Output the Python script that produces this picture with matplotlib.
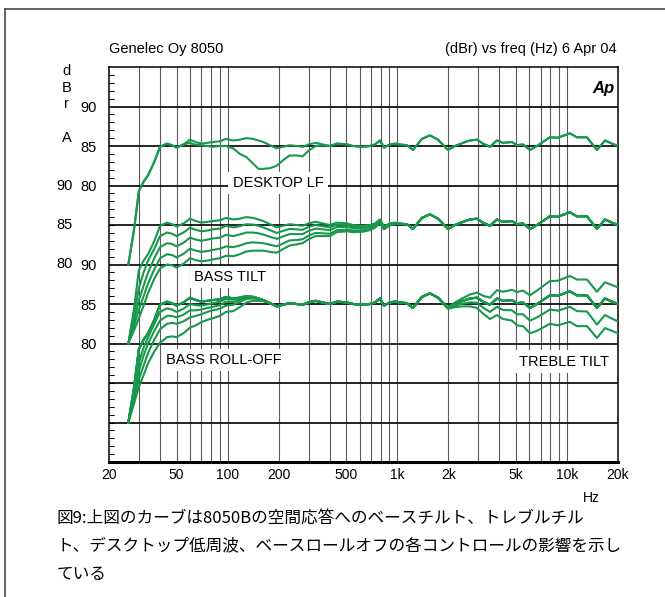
import numpy as np
import matplotlib
matplotlib.use("Agg")
import matplotlib.pyplot as plt
from matplotlib.transforms import blended_transform_factory

# ---------------- data ----------------
freq_hz = [26, 28, 30, 32, 34, 37, 40, 44, 47, 50, 55, 60, 65, 70, 76, 82, 90, 98,
           108, 118, 129, 141, 152, 162, 178, 195, 212, 232, 255, 277, 300, 330,
           363, 401, 441, 505, 548, 628, 690, 739, 791, 835, 905, 968, 1037, 1141,
           1237, 1398, 1558, 1738, 1990, 2189, 2440, 2682, 2950, 3199, 3518, 3866,
           4197, 4743, 5074, 5508, 6055, 6655, 7217, 7934, 8848, 10411, 11448,
           13122, 15032, 16756, 18423, 20000]

# flat (all controls off) response, dB
base_db = [70.0, 74.2, 79.3, 80.5, 81.3, 83.0, 84.9, 85.3, 85.1, 84.8, 85.2, 85.8,
           85.5, 85.3, 85.4, 85.5, 85.6, 85.9, 85.7, 85.8, 86.0, 85.9, 85.7, 85.5,
           85.1, 84.7, 84.9, 85.1, 85.0, 84.9, 85.2, 85.4, 85.2, 85.0, 85.3, 85.2,
           85.0, 84.9, 85.0, 85.2, 85.7, 84.8, 85.2, 85.3, 85.2, 85.1, 84.5, 85.9,
           86.35, 85.8, 84.5, 85.0, 85.4, 85.7, 85.8, 85.3, 84.9, 85.7, 85.4, 85.5,
           85.1, 85.2, 84.5, 85.0, 85.5, 86.1, 86.05, 86.6, 86.1, 86.1, 84.5, 85.7,
           85.3, 85.0]

# desktop LF: deviation from flat, starting at 60 Hz (index 11)
desktop_dev = [-0.4, -0.35, -0.2, -0.4, -0.6, -0.6, -0.9, -1.0, -1.8, -2.4, -3.1,
               -3.6, -3.4, -2.9, -2.2, -1.7, -1.3, -1.2, -1.2, -0.8, -0.4, -0.1]
desktop_start = 11

# bass tilt: deviations from flat, starting at 26 Hz (index 0)
bass_tilt_devs = [
    [0, -0.7, -2.3, -1.5, -0.8, -1.0, -1.3,
     -1.25, -1.2, -1.2, -1.15, -1.15, -1.1, -1.1, -1.1, -1.05, -1.05, -1.0, -1.0,
     -0.95, -0.9, -0.85, -0.8, -0.8, -0.75, -0.7, -0.65, -0.6, -0.55, -0.5, -0.45,
     -0.4, -0.35, -0.3, -0.25, -0.2, -0.2, -0.15, -0.12, -0.1, -0.08, -0.06, -0.05,
     -0.03, -0.02],
    [0, -1.4, -3.8, -3.2, -2.3, -2.2, -2.7,
     -2.6, -2.5, -2.5, -2.45, -2.4, -2.35, -2.3, -2.25, -2.2, -2.2, -2.15, -2.1,
     -2.0, -1.95, -1.85, -1.75, -1.7, -1.6, -1.45, -1.35, -1.25, -1.15, -1.05,
     -0.95, -0.85, -0.75, -0.65, -0.55, -0.45, -0.4, -0.32, -0.27, -0.23, -0.19,
     -0.15, -0.11, -0.07, -0.04],
    [0, -2.0, -5.0, -4.5, -3.7, -3.6, -4.1,
     -4.0, -3.9, -3.9, -3.85, -3.8, -3.75, -3.7, -3.7, -3.65, -3.6, -3.6, -3.5,
     -3.4, -3.3, -3.1, -2.95, -2.8, -2.6, -2.4, -2.25, -2.05, -1.9, -1.7, -1.55,
     -1.4, -1.25, -1.1, -0.95, -0.8, -0.7, -0.58, -0.5, -0.42, -0.35, -0.28, -0.2,
     -0.13, -0.07],
    [0, -2.6, -6.1, -5.7, -4.9, -4.8, -5.4,
     -5.3, -5.2, -5.2, -5.1, -5.0, -4.95, -4.9, -4.9, -4.85, -4.8, -4.8, -4.65,
     -4.5, -4.35, -4.15, -3.95, -3.75, -3.5, -3.2, -2.95, -2.7, -2.45, -2.2, -2.0,
     -1.8, -1.6, -1.4, -1.2, -1.0, -0.9, -0.75, -0.65, -0.55, -0.45, -0.35, -0.25,
     -0.16, -0.08],
]

# bass roll-off: deviations from flat, starting at 26 Hz (index 0)
bass_rolloff_devs = [
    [0, -0.4, -1.7, -1.0, -0.5, -0.5, -0.9,
     -0.85, -0.8, -0.8, -0.8, -0.8, -0.65, -0.5, -0.45, -0.4, -0.3, -0.25, -0.15,
     -0.1, -0.05, 0, 0, 0],
    [0, -0.9, -2.8, -2.0, -1.3, -1.4, -2.0,
     -1.8, -1.6, -1.5, -1.55, -1.6, -1.3, -1.0, -0.9, -0.85, -0.75, -0.6, -0.45,
     -0.3, -0.2, -0.1, 0, 0],
    [0, -1.4, -3.8, -3.3, -2.5, -2.5, -3.1,
     -2.8, -2.5, -2.3, -2.4, -2.5, -2.0, -1.6, -1.4, -1.3, -1.2, -1.1, -0.8,
     -0.55, -0.35, -0.2, -0.1, 0],
    [0, -1.9, -4.8, -4.5, -3.8, -4.0, -4.8,
     -4.5, -4.2, -4.0, -3.9, -3.8, -3.2, -2.6, -2.4, -2.3, -2.1, -1.9, -1.6,
     -1.2, -0.8, -0.5, -0.3, -0.15],
]

# treble tilt: deviations from flat, starting at ~2 kHz (index 50)
treble_devs = [
    [0.05, 0.2, 0.35, 0.5, 0.65, 0.75, 0.9, 1.05, 1.15, 1.3, 1.4, 1.5, 1.6, 1.7,
     1.75, 1.8, 1.9, 1.95, 2.0, 2.0, 2.05, 2.05, 2.1, 2.1],
    [-0.05, -0.2, -0.35, -0.5, -0.65, -0.75, -0.9, -1.05, -1.15, -1.3, -1.4, -1.5,
     -1.6, -1.7, -1.75, -1.8, -1.9, -1.95, -2.0, -2.05, -2.1, -2.1, -2.15, -2.2],
    [-0.1, -0.4, -0.7, -1.0, -1.3, -1.5, -1.8, -2.1, -2.3, -2.6, -2.8, -3.0, -3.2,
     -3.4, -3.5, -3.6, -3.75, -3.85, -3.9, -3.9, -3.8, -3.75, -3.7, -3.7],
]
treble_start = 50

# vertical offsets of the three stacked groups (85 dB line positions)
group_offsets = [-45, -55, -65]

x_tick_values = [20, 50, 100, 200, 500, 1000, 2000, 5000, 10000, 20000]
x_tick_labels = ["20", "50", "100", "200", "500", "1k", "2k", "5k", "10k", "20k"]
right_tick_pos = [45, 40, 35, 25, 20, 15]
right_tick_labels = ["90", "85", "80", "90", "85", "80"]
left_tick_pos = [35, 30, 25]
left_tick_labels = ["90", "85", "80"]

control_labels = ["DESKTOP LF", "BASS TILT", "BASS ROLL-OFF", "TREBLE TILT"]
control_label_freq = [198, 103, 95, 9600]
control_label_level = [35.3, 23.4, 12.9, 12.7]

caption_lines = ["図9:上図のカーブは8050Bの空間応答へのベースチルト、トレブルチル",
                 "ト、デスクトップ低周波、ベースロールオフの各コントロールの影響を示し",
                 "ている"]

# ---------------- drawing ----------------
LAT = ["Liberation Sans", "DejaVu Sans"]
CJK = ["Noto Sans CJK JP", "DejaVu Sans"]
plt.rcParams["font.family"] = LAT

W, H = 665, 597
fig = plt.figure(figsize=(W / 100, H / 100), dpi=100)
fig.patch.set_facecolor("white")

# outer frame (top and left edges)
fig.add_artist(plt.Line2D([5 / W, 5 / W], [0, 1 - 9 / H], color="#555555", lw=1.3))
fig.add_artist(plt.Line2D([5 / W, 1], [1 - 9 / H, 1 - 9 / H], color="#555555", lw=1.3))

ax = fig.add_axes([109 / W, (H - 462) / H, 509 / W, 395 / H])
ax.set_xscale("log")
ax.set_xlim(20, 20000)
ax.set_ylim(0, 50)

GREEN = "#17984c"
f = np.array(freq_hz, dtype=float)
base = np.array(base_db, dtype=float)
n = len(f)


def padded(dev, start):
    arr = np.zeros(n)
    arr[start:start + len(dev)] = dev
    return arr


LW = 1.5
# group 1: desktop LF
o1 = group_offsets[0]
ax.plot(f, base + o1, color=GREEN, lw=LW, zorder=4)
ax.plot(f, base + padded(desktop_dev, desktop_start) + o1, color=GREEN, lw=LW, zorder=4)

# group 2: bass tilt
o2 = group_offsets[1]
ax.plot(f, base + o2, color=GREEN, lw=LW, zorder=4)
for d in bass_tilt_devs:
    ax.plot(f, base + padded(d, 0) + o2, color=GREEN, lw=LW, zorder=4)

# group 3: bass roll-off and treble tilt
o3 = group_offsets[2]
ax.plot(f, base + o3, color=GREEN, lw=LW, zorder=4)
for d in bass_rolloff_devs:
    ax.plot(f, base + padded(d, 0) + o3, color=GREEN, lw=LW, zorder=4)
for d in treble_devs:
    ax.plot(f, base + padded(d, treble_start) + o3, color=GREEN, lw=LW, zorder=4)

# grid
vgrid = [30, 40, 50, 60, 70, 80, 90, 100, 200, 300, 400, 500, 600, 700, 800, 900,
         1000, 2000, 3000, 4000, 5000, 6000, 7000, 8000, 9000, 10000]
for v in vgrid:
    ax.axvline(v, color="#5a5a5a", lw=0.8, zorder=1)
for yv in range(5, 50, 5):
    ax.axhline(yv, color="black", lw=1.2, zorder=1)

# spines
for s in ["top", "right", "left"]:
    ax.spines[s].set_linewidth(1.1)
ax.spines["bottom"].set_linewidth(2.2)

# ticks
ax.set_xticks(x_tick_values)
ax.set_xticklabels(x_tick_labels)
ax.xaxis.set_minor_locator(matplotlib.ticker.NullLocator())
ax.tick_params(axis="x", which="major", length=0, pad=4, labelsize=10)
ax.set_yticks(right_tick_pos)
ax.set_yticklabels(right_tick_labels)
ax.set_yticks(list(range(1, 50)), minor=True)
ax.tick_params(axis="y", which="major", length=0, pad=9, labelsize=10.5)
ax.tick_params(axis="y", which="minor", length=3.5, width=0.8, direction="in")

trans = blended_transform_factory(ax.transAxes, ax.transData)
for p, lab in zip(left_tick_pos, left_tick_labels):
    ax.text(-36 / 509, p, lab, transform=trans, ha="right", va="center",
            fontsize=10.5)

# control labels
box = dict(facecolor="white", edgecolor="none", pad=3)
for lab, fx, ly in zip(control_labels, control_label_freq, control_label_level):
    ax.text(fx, ly, lab, fontsize=10.5, ha="center", va="center", bbox=box, zorder=3)

# Ap logo
ax.text(0.994, 0.965, "Ap", transform=ax.transAxes, ha="right", va="top",
        fontsize=12, fontweight="bold", fontstyle="italic", zorder=5)

# titles
fig.text(109 / W, 1 - 49 / H, "Genelec Oy 8050", ha="left", va="center", fontsize=10.5)
fig.text(617 / W, 1 - 49 / H, "(dBr) vs freq (Hz) 6 Apr 04", ha="right",
         va="center", fontsize=10.5)

# vertical axis unit
for ch, yy in zip(["d", "B", "r", "A"], [71, 88, 104, 138]):
    fig.text(66.5 / W, 1 - yy / H, ch, ha="center", va="center", fontsize=10.5)

fig.text(591 / W, 1 - 498 / H, "Hz", ha="center", va="center", fontsize=10)

# caption
for i, line in enumerate(caption_lines):
    fig.text(57 / W, 1 - (518 + 28 * i) / H, line, ha="left", va="center",
             fontsize=12, family=CJK)

fig.savefig("out.png", dpi=100, facecolor="white")
